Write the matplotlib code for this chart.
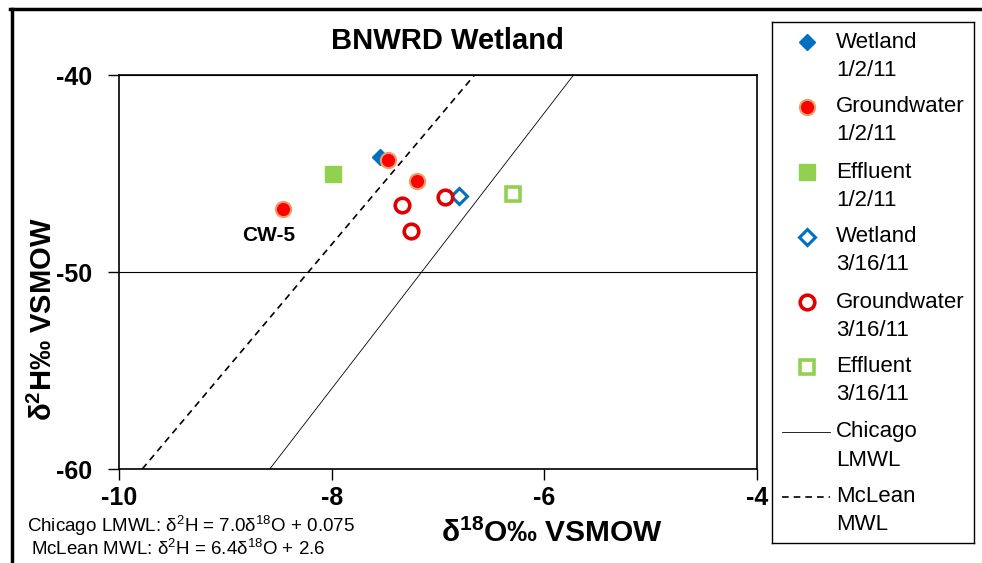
import matplotlib
matplotlib.use("Agg")
import matplotlib.pyplot as plt
from matplotlib.lines import Line2D
import numpy as np

plt.rcParams['font.family'] = ['Liberation Sans', 'DejaVu Sans']
plt.rcParams['mathtext.fontset'] = 'custom'
plt.rcParams['mathtext.rm'] = 'Liberation Sans'
plt.rcParams['mathtext.it'] = 'Liberation Sans:italic'
plt.rcParams['mathtext.bf'] = 'Liberation Sans:bold'

# ---- data ----
wet1_x = [-7.55]
wet1_y = [-44.16]
gw1_x = [-7.47, -7.20, -8.46]
gw1_y = [-44.31, -45.38, -46.80]
eff1_x = [-7.99]
eff1_y = [-45.03]
wet2_x = [-6.80]
wet2_y = [-46.14]
gw2_x = [-7.34, -6.93, -7.25]
gw2_y = [-46.60, -46.19, -47.92]
eff2_x = [-6.29]
eff2_y = [-46.04]

chicago_slope, chicago_int = 7.0, 0.075
mclean_slope, mclean_int = 6.4, 2.6

x_ticks = [-10, -8, -6, -4]
y_ticks = [-60, -50, -40]

blue = '#0070C0'
red = '#FF0000'
orange = '#E9A06A'
green = '#92D050'

series = [
    (("Wetland", "1/2/11"), wet1_x, wet1_y, dict(marker='D', ms=8.5, mfc=blue, mec=blue, mew=1)),
    (("Groundwater", "1/2/11"), gw1_x, gw1_y, dict(marker='o', ms=11, mfc=red, mec=orange, mew=1.5)),
    (("Effluent", "1/2/11"), eff1_x, eff1_y, dict(marker='s', ms=11, mfc=green, mec=green, mew=1)),
    (("Wetland", "3/16/11"), wet2_x, wet2_y, dict(marker='D', ms=8, mfc='white', mec=blue, mew=2.2)),
    (("Groundwater", "3/16/11"), gw2_x, gw2_y, dict(marker='o', ms=10.5, mfc='white', mec='#E00000', mew=2.6)),
    (("Effluent", "3/16/11"), eff2_x, eff2_y, dict(marker='s', ms=10.5, mfc='white', mec=green, mew=2.6)),
]

fig = plt.figure(figsize=(9.82, 5.63), dpi=100)
ax = fig.add_axes([119/982, 1-469/563, (757-119)/982, (469-75)/563])

ax.set_xlim(-10, -4)
ax.set_ylim(-60, -40)

# meteoric water lines clipped to y limits
yy = np.array([-60.0, -40.0])
ax.plot((yy - chicago_int)/chicago_slope, yy, color='black', lw=0.6, zorder=2)
ax.plot((yy - mclean_int)/mclean_slope, yy, color='black', lw=1.2, ls=(0, (4, 3)), zorder=2)

for label, xs, ys, st in series:
    ax.plot(xs, ys, ls='none', zorder=3, **st)

ax.text(gw1_x[2] - 0.13, gw1_y[2] - 1.37, "CW-5", fontsize=15, fontweight='bold', ha='center', va='center')

ax.set_xticks(x_ticks)
ax.set_yticks(y_ticks)
ax.set_xticklabels([str(t) for t in x_ticks], fontsize=18, fontweight='bold')
ax.set_yticklabels([str(t) for t in y_ticks], fontsize=18, fontweight='bold')
ax.tick_params(direction='out', length=8, width=1)
ax.tick_params(axis='y', pad=11)
ax.tick_params(axis='x', pad=4)
ax.yaxis.grid(True, color='black', lw=0.8)
for s in ax.spines.values():
    s.set_linewidth(1.2)

fig.text(447/982, 1-41/563, "BNWRD Wetland", fontsize=21, fontweight='bold', ha='center', va='center')
fig.text(552/982, 1-533/563, r"δ$^{\mathbf{18}}$O‰ VSMOW", fontsize=21.5, fontweight='bold', ha='center', va='center')
fig.text(43/982, 1-319/563, r"δ$^{\mathbf{2}}$H‰ VSMOW", fontsize=21, fontweight='bold', ha='center', va='center', rotation=90)

fig.text(27/982, 1-526/563, r"Chicago LMWL: δ$^{2}$H = 7.0δ$^{18}$O + 0.075", fontsize=13.5, ha='left', va='center')
fig.text(31/982, 1-549/563, r"McLean MWL: δ$^{2}$H = 6.4δ$^{18}$O + 2.6", fontsize=13.5, ha='left', va='center')

# ---- legend (manual, markers aligned with first line) ----
L, R, T, B = 772, 974, 22, 543
lax = fig.add_axes([L/982, 1-B/563, (R-L)/982, (B-T)/563])
lax.set_xlim(L, R)
lax.set_ylim(B, T)
lax.set_xticks([])
lax.set_yticks([])
for s in lax.spines.values():
    s.set_linewidth(1.0)
entry_y = [42 + 65*i for i in range(8)]

def legend_text(lines, y0):
    for k, line in enumerate(lines):
        lax.text(836, y0 + 28*k, line, fontsize=16, ha='left', va='center')

for (label, xs, ys, st), y0 in zip(series, entry_y):
    lax.plot([807], [y0], ls='none', **st)
    legend_text(label, y0)
lines_leg = [(("Chicago", "LMWL"), dict(color='black', lw=0.6)),
             (("McLean", "MWL"), dict(color='black', lw=1.2, ls=(0, (4, 3))))]
for (label, st), y0 in zip(lines_leg, entry_y[6:]):
    lax.plot([782, 830], [y0, y0], **st)
    legend_text(label, y0)

# figure frame (top and left thick border)
fig.add_artist(Line2D([10/982, 1], [1-9/563, 1-9/563], transform=fig.transFigure, color='black', lw=2.5))
fig.add_artist(Line2D([11.5/982, 11.5/982], [0, 1-9/563], transform=fig.transFigure, color='black', lw=2.5))

fig.savefig("out.png", dpi=100)
